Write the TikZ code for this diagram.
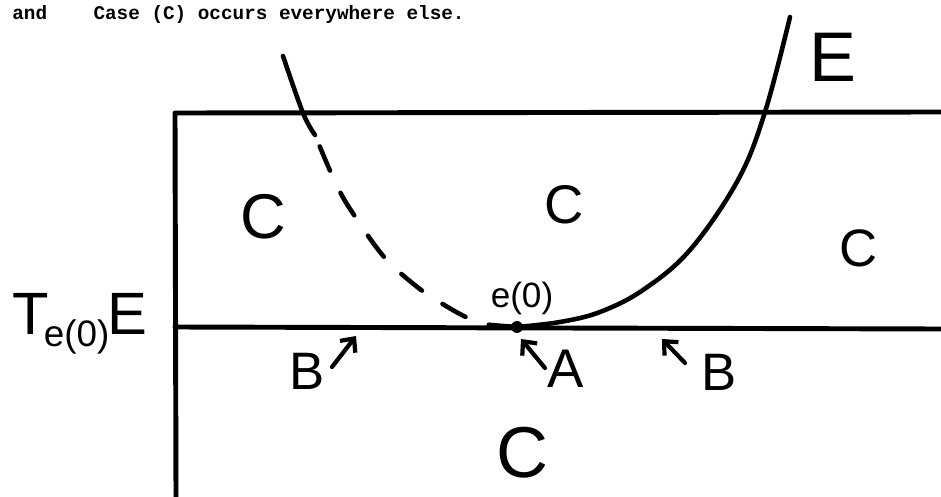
\documentclass[tikz,border=0pt]{standalone}
\usepackage{fontspec}
\setsansfont{Liberation Sans}
\setmonofont{Liberation Mono}
\usetikzlibrary{arrows.meta}

\begin{document}
\begin{tikzpicture}[
  x=0.02cm, y=-0.02cm,
  ink/.style={line width=2.6pt, line cap=round, line join=round},
  hand/.style={font=\sffamily\fontsize{#1}{#1}\selectfont, inner sep=0pt},
  typed/.style={font=\ttfamily\bfseries\fontsize{11}{13}\selectfont, inner sep=0pt, anchor=base west},
  pointer/.style={line width=2.4pt, line cap=round, -{Straight Barb[length=6pt, width=11pt]}},
]

%% ── frame: 1 unit = 1 pixel of the page, y grows downward ──
\useasboundingbox (0,0) rectangle (941,497);

%% ── y positions of the two horizontal lines ─────────────────
\def\yTop{112}    % upper edge of the region
\def\yTan{328}    % tangent line T_{e(0)}E
\def\xL{175}      % left edge

%% ── caption line (typewritten) ──────────────────────────────
\node[typed] (caption) at (12,19) {and~~~~Case (C) occurs everywhere else.};

%% ── frame lines ─────────────────────────────────────────────
\draw[ink, line width=2.8pt] (941,\yTop) -- (\xL,\yTop+1) -- (\xL+1,497);
\draw[ink, line width=2.8pt] (\xL,\yTan-1) -- (941,\yTan+1);

%% ── the curve E: solid right branch, dashed left branch ─────
\node[circle, fill, inner sep=2.4pt] (e0) at (517,327) {};
\draw[ink] plot[smooth, tension=0.6] coordinates
  {(517,327) (560,322) (600,312) (643,290) (690,250) (738,180) (765,112) (790,17)};
\draw[ink] plot[smooth, tension=0.6] coordinates
  {(283,56) (303,113) (315,135)};
\draw[ink, dash pattern=on 15pt off 14pt, dash phase=22pt]
  plot[smooth, tension=0.6] coordinates
  {(315,135) (337,186) (356,218) (385,258) (416,286) (441,303) (468,318) (490,325)};
\draw[ink] (490,325) -- (e0.center);

%% ── labels ──────────────────────────────────────────────────
\node[hand=40] (labE) at (833,57) {E};
\node[hand=20] (labe0) at (522,298) {e(0)};
\node[hand=34] (tangent) at (80,324)
  {T\kern-3pt\raisebox{-7pt}{\fontsize{21}{21}\selectfont e(0)}\kern-1pt E};

\node[hand=36] (regL)  at (263,217) {C};
\node[hand=31] (regM)  at (564,205) {C};
\node[hand=30] (regR)  at (859,248) {C};
\node[hand=41] (regB)  at (523,453) {C};

\node[hand=30] (labBl) at (307,371) {B};
\node[hand=31] (labA)  at (566,369) {A};
\node[hand=30] (labBr) at (719,372) {B};

%% ── pointers to the tangent line ────────────────────────────
\coordinate (tailBl) at (332,367);  \coordinate (tipBl) at (356,336);
\coordinate (tailA)  at (545,368);  \coordinate (tipA)  at (521,339);
\coordinate (tailBr) at (685,363);  \coordinate (tipBr) at (662,339);
\draw[pointer] (tailBl) -- (tipBl);
\draw[pointer] (tailA)  -- (tipA);
\draw[pointer] (tailBr) -- (tipBr);

\end{tikzpicture}
\end{document}
